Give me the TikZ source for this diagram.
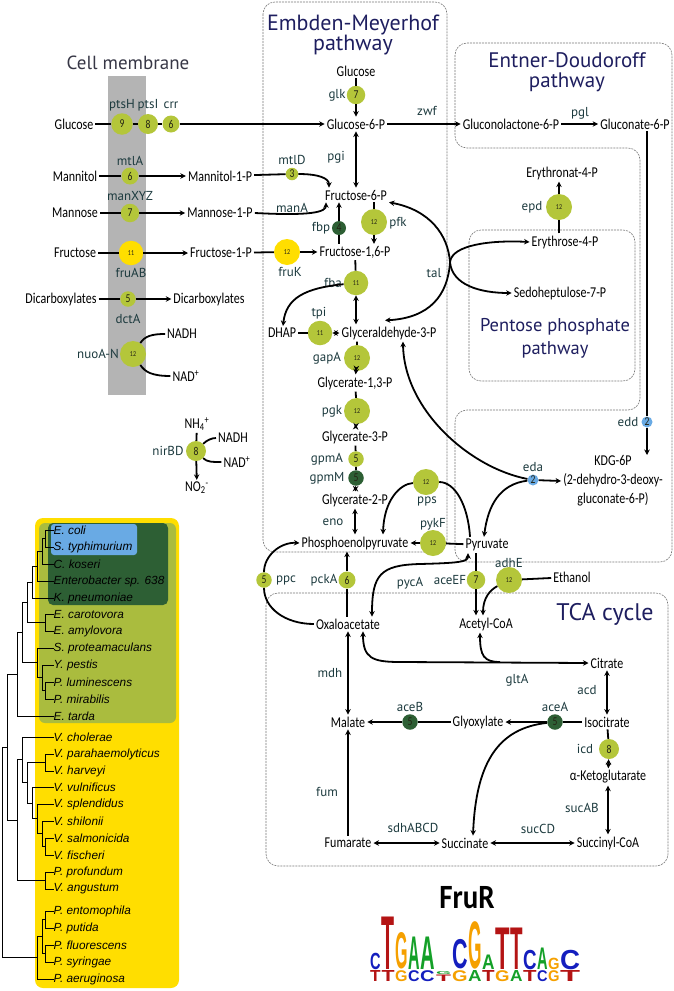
\documentclass[tikz,border=0pt]{standalone}
\usepackage{fontspec}
\usepackage{graphicx}
\usetikzlibrary{arrows.meta}
\setmainfont{Carlito}
\newfontfamily\metfont{Carlito}[FakeStretch=0.8]
\newfontfamily\headfont{Carlito}[FakeStretch=0.85]
\newfontfamily\enzfont{PT Sans}
\newfontfamily\spfont{Liberation Sans}

\definecolor{enzcol}{RGB}{28,58,62}
\definecolor{titlecol}{RGB}{30,30,95}
\definecolor{membcol}{RGB}{180,180,180}
\definecolor{membtext}{RGB}{55,55,70}
\definecolor{limecol}{RGB}{180,198,58}
\definecolor{sunny}{RGB}{255,222,0}
\definecolor{forest}{RGB}{45,95,52}
\definecolor{skycol}{RGB}{105,170,228}
\definecolor{olivecol}{RGB}{170,188,62}
\definecolor{boxcol}{RGB}{120,120,120}
\definecolor{numcol}{RGB}{35,35,20}
\definecolor{logoA}{RGB}{20,160,40}
\definecolor{logoC}{RGB}{20,30,190}
\definecolor{logoG}{RGB}{245,160,0}
\definecolor{logoT}{RGB}{180,20,20}

\tikzset{
  met/.style={font=\metfont\fontsize{15}{19}\selectfont, inner sep=2pt},
  enz/.style={font=\enzfont\fontsize{13}{13}\selectfont, text=enzcol, inner sep=1pt},
  gene/.style={circle, inner sep=0pt, fill=#1, text=numcol, font=\metfont},
  conn/.style={line width=1.8pt},
  flow/.style={conn, -{Stealth[length=5.5pt,width=5.5pt]}},
  both/.style={conn, {Stealth[length=5.5pt,width=5.5pt]}-{Stealth[length=5.5pt,width=5.5pt]}},
  region/.style={draw=boxcol, dash pattern=on 2pt off 1pt, line width=0.6pt, rounded corners=12pt},
  ptitle/.style={font=\enzfont\fontsize{19}{20}\selectfont, text=titlecol, align=center},
  species/.style={font=\spfont\itshape\fontsize{11.8}{12}\selectfont, anchor=west, inner sep=0pt},
  branch/.style={line width=0.9pt},
  logo/.style={inner sep=0pt, anchor=south west, font=\spfont\bfseries}
}

% circle with the number of genomes
\newcommand{\gene}[4]{\node[gene=#4, minimum size={8+1.5*#3}] (#1) at (#2) {\ifnum#3>9 \fontsize{7.5}{7.5}\selectfont\else\fontsize{12}{12}\selectfont\fi #3};}

\begin{document}
\begin{tikzpicture}[x=1pt,y=-1pt]
\useasboundingbox (0,0) rectangle (674,991);

% regions
\fill[membcol] (108,76) rectangle (146,395);
\node[font=\enzfont\fontsize{19}{20}\selectfont, text=membtext] (membtitle) at (128,63) {Cell membrane};
\draw[region] (263,2) rectangle (447,552);
\draw[region] (455,43) -- (672,43) -- (672,562) -- (455,562) -- (455,410) -- (640,410) -- (640,148) -- (455,148) -- cycle;
\draw[region] (469,230) rectangle (635,381);
\draw[region] (266,593) rectangle (668,866);
\node[ptitle, font=\enzfont\fontsize{22}{20}\selectfont] (emtitle) at (353,35) {Embden-Meyerhof\\pathway};
\node[ptitle, font=\enzfont\fontsize{21}{20}\selectfont] (edtitle) at (567,72) {Entner-Doudoroff\\pathway};
\node[ptitle, font=\enzfont\fontsize{18.5}{23}\selectfont] (pptitle) at (555,338) {Pentose phosphate\\pathway};
\node[ptitle, font=\enzfont\fontsize{24}{24}\selectfont] (tcatitle) at (605,614) {TCA cycle};

% metabolites
\node[met] (glc) at (74,124) {Glucose};
\node[met] (mannitol) at (75,176) {Mannitol};
\node[met] (mannose) at (75,213) {Mannose};
\node[met] (fructose) at (75,253) {Fructose};
\node[met] (dicarb) at (61,299) {Dicarboxylates};
\node[met] (m1p) at (220,176) {Mannitol-1-P};
\node[met] (man1p) at (220,213) {Mannose-1-P};
\node[met] (f1p) at (221,253) {Fructose-1-P};
\node[met] (dicarbin) at (209,299) {Dicarboxylates};
\node[met] (nadh) at (182,334) {NADH};
\node[met] (nadp) at (186,376) {NAD\textsuperscript{+}};
\node[met] (nh4) at (197,424) {NH\textsubscript{4}\textsuperscript{+}};
\node[met] (no2) at (197,488) {NO\textsubscript{2}\textsuperscript{-}};
\node[met] (nadhb) at (233,438) {NADH};
\node[met] (nadpb) at (237,462) {NAD\textsuperscript{+}};
\node[met] (glcem) at (356,71) {Glucose};
\node[met] (g6p) at (356,124) {Glucose-6-P};
\node[met] (glcl) at (511,124) {Gluconolactone-6-P};
\node[met] (glcn) at (635,124) {Gluconate-6-P};
\node[met] (f6p) at (356,195) {Fructose-6-P};
\node[met] (f16p) at (355,252) {Fructose-1,6-P};
\node[met] (dhap) at (282,333) {DHAP};
\node[met] (g3p) at (389,333) {Glyceraldehyde-3-P};
\node[met] (g13p) at (355,383) {Glycerate-1,3-P};
\node[met] (g3pa) at (355,437) {Glycerate-3-P};
\node[met] (g2p) at (355,500) {Glycerate-2-P};
\node[met] (pep) at (355,543) {Phosphoenolpyruvate};
\node[met] (pyr) at (487,545) {Pyruvate};
\node[met, align=center] (kdg) at (613,481) {KDG-6P\\(2-dehydro-3-deoxy-\\gluconate-6-P)};
\node[met] (e4pa) at (562,173) {Erythronat-4-P};
\node[met] (e4p) at (565,242) {Erythrose-4-P};
\node[met] (s7p) at (560,293) {Sedoheptulose-7-P};
\node[met] (ethanol) at (572,577) {Ethanol};
\node[met] (oaa) at (348,624) {Oxaloacetate};
\node[met] (accoa) at (486,624) {Acetyl-CoA};
\node[met] (citrate) at (607,663) {Citrate};
\node[met] (isocit) at (607,722) {Isocitrate};
\node[met] (glyox) at (478,722) {Glyoxylate};
\node[met] (malate) at (348,722) {Malate};
\node[met] (akg) at (608,777) {α-Ketoglutarate};
\node[met] (succoa) at (608,843) {Succinyl-CoA};
\node[met] (succ) at (465,843) {Succinate};
\node[met] (fum) at (348,843) {Fumarate};
\coordinate (eddend) at (647,455);

% genes
\gene{pts9}{122,124}{9}{limecol}
\gene{pts8}{148,124}{8}{limecol}
\gene{crr6}{171,124}{6}{limecol}
\gene{mtla}{130,176}{6}{limecol}
\gene{manxyz}{130,213}{7}{limecol}
\gene{fruab}{131,253}{11}{sunny}
\gene{dcta}{128,299}{5}{limecol}
\gene{nuo}{133,354}{12}{limecol}
\gene{nir}{196,451}{8}{limecol}
\gene{glk}{356,95}{7}{limecol}
\gene{mtld}{292,174}{3}{limecol}
\gene{fbp}{339,228}{4}{forest}
\gene{pfk}{374,222}{12}{limecol}
\gene{fruk}{287,252}{12}{sunny}
\gene{fba}{356,283}{11}{limecol}
\gene{tpi}{320,333}{11}{limecol}
\gene{gapa}{357,358}{12}{limecol}
\gene{pgk}{357,411}{12}{limecol}
\gene{gpma}{356,459}{5}{limecol}
\gene{gpmm}{356,478}{5}{forest}
\gene{pps}{426,482}{12}{limecol}
\gene{pykf}{433,543}{12}{limecol}
\gene{eda}{533,480}{2}{skycol}
\gene{edd}{647,422}{2}{skycol}
\gene{epd}{559,207}{12}{limecol}
\gene{ppc}{264,580}{5}{limecol}
\gene{pcka}{347,580}{6}{limecol}
\gene{aceef}{476,580}{7}{limecol}
\gene{adhe}{509,580}{12}{limecol}
\gene{acea}{555,722}{5}{forest}
\gene{aceb}{410,722}{5}{forest}
\gene{icd}{609,749}{8}{limecol}

% enzyme names
\foreach \n/\x/\y/\t in {ptshlab/122/105/ptsH, ptsilab/148/105/ptsI, crrlab/171/105/crr,
  mtlalab/130/161/mtlA, manxyzlab/130/196/manXYZ, fruablab/131/273/fruAB, dctalab/128/319/dctA,
  nuolab/98/354/nuoA-N, nirlab/168/451/nirBD, glklab/337/95/glk, zwflab/427/111/zwf,
  pgllab/580/113/pgl, pgilab/336/157/pgi, mtldlab/292/160/mtlD, manalab/292/208/manA,
  fbplab/321/228/fbp, pfklab/398/223/pfk, fruklab/290/272/fruK, fbalab/333/283/fba,
  tpilab/319/313/tpi, tallab/434/273/tal, gapalab/327/358/gapA, pgklab/332/411/pgk,
  gpmalab/327/459/gpmA, gpmmlab/327/478/gpmM, enolab/333/522/eno, ppslab/427/501/pps,
  pykflab/433/524/pykF, edalab/533/467/eda, eddlab/628/422/edd, epdlab/532/207/epd,
  ppclab/286/580/ppc, pckalab/324/580/pckA, pycalab/410/583/pycA, aceeflab/450/580/aceEF,
  adhelab/509/563/adhE, mdhlab/330/673/mdh, gltalab/517/680/gltA, acdlab/587/690/acd,
  aceblab/410/707/aceB, acealab/555/707/aceA, icdlab/585/749/icd, fumlab/327/792/fum,
  sdhlab/413/828/sdhABCD, succdlab/538/829/sucCD, sucablab/582/808/sucAB}
  \node[enz] (\n) at (\x,\y) {\t};

% transport
\draw[flow] (glc) -- (pts9) -- (pts8) -- (crr6) -- (g6p);
\draw[flow] (mannitol) -- (mtla) -- (m1p);
\draw[flow] (mannose) -- (manxyz) -- (man1p);
\draw[flow] (fructose) -- (fruab) -- (f1p);
\draw[flow] (dicarb) -- (dcta) -- (dicarbin);
\draw[conn] (nuo) .. controls (145,336) and (152,334) .. (nadh.west);
\draw[conn] (nuo) .. controls (145,372) and (152,376) .. (nadp.west);
\draw[flow] (nh4) -- (nir) -- (no2);
\draw[conn] (nir) .. controls (207,440) and (212,438) .. (nadhb.west);
\draw[conn] (nir) .. controls (207,462) and (212,462) .. (nadpb.west);

% glycolysis
\draw[flow] (glcem) -- (glk) -- (g6p);
\draw[flow] (g6p) -- (glcl);
\draw[flow] (glcl) -- (glcn);
\draw[flow] ([xshift=12pt]glcn.south) -- (edd) -- (eddend);
\draw[both] (g6p) -- (f6p);
\draw[conn] (m1p) -- (mtld);
\draw[flow] (mtld) .. controls (318,174) and (329,178) .. ([xshift=-27pt]f6p.north);
\draw[flow] (man1p.east) .. controls (312,216) and (326,212) .. ([xshift=3pt]f6p.south west);
\draw[flow] (f1p) -- (fruk) -- (f16p);
\draw[flow] (f16p.north -| fbp) -- (fbp) -- (f6p.south -| fbp);
\draw[flow] (f6p.south -| pfk) -- (pfk) -- (f16p.north -| pfk);
\draw[both] (f16p) -- (fba) -- (g3p.north -| fba);
\draw[flow] (fba) .. controls (305,288) and (286,298) .. ([xshift=1pt]dhap.north);
\draw[both] (dhap) -- (tpi) -- (g3p);
\draw[both] (g3p.south -| gapa) -- (gapa) -- (g13p);
\draw[both] (g13p) -- (pgk) -- (g3pa);
\draw[both] (g3pa) -- (gpma) -- (gpmm) -- (g2p);
\draw[both] (g2p) -- (pep);
\draw[flow] (pyr) -- (pykf) -- (pep);
\draw[conn] ([xshift=-17pt]pyr.north) .. controls (468,505) and (455,482) .. (pps);
\draw[flow] (pps) .. controls (400,484) and (384,500) .. ([xshift=28pt]pep.north);

% pentose phosphate
\draw[flow] (e4p.north -| epd) -- (epd) -- (e4pa.south -| epd);
\draw[both] (f6p.south east) .. controls (430,210) and (448,235) .. (450,262) .. controls (452,285) and (480,293) .. (s7p.west);
\draw[both] ([xshift=-4pt,yshift=4pt]g3p.north) .. controls (430,318) and (448,295) .. (450,262) .. controls (452,245) and (490,240) .. (e4p.west);

% Entner-Doudoroff
\draw[flow] (eda) -- (kdg.west);
\draw[flow] (eda) .. controls (470,468) and (404,410) .. ([xshift=14pt]g3p.south);
\draw[flow] (eda) .. controls (500,484) and (488,505) .. ([xshift=-3pt]pyr.north);

% pyruvate node
\draw[flow] (oaa.north -| pcka) -- (pcka) -- (pep.south -| pcka);
\draw[conn] (oaa.west) .. controls (285,624) and (264,608) .. (ppc);
\draw[flow] (ppc) .. controls (264,556) and (280,542) .. (pep.west);
\draw[both] ([xshift=24pt]oaa.north) .. controls (372,575) and (380,565) .. (420,564) .. controls (458,563) and (468,562) .. ([xshift=-19pt]pyr.south);
\draw[flow] (pyr.south -| aceef) -- (aceef) -- (accoa.north -| aceef);
\draw[conn] (ethanol) -- (adhe);
\draw[flow] (adhe) .. controls (490,590) and (483,598) .. ([xshift=-3pt]accoa.north);

% TCA cycle
\coordinate (gltjoin) at (500,662);
\draw[both] ([xshift=15pt]oaa.south) .. controls (363,658) and (372,662) .. (400,662) -- (citrate.west);
\draw[flow] (gltjoin) .. controls (484,662) and (480,656) .. ([xshift=-6pt]accoa.south);
\draw[both] (citrate) -- (isocit);
\draw[flow] (isocit) -- (acea) -- (glyox);
\draw[flow] (glyox) -- (aceb) -- (malate);
\draw[flow] (acea) .. controls (500,728) and (476,760) .. ([xshift=8pt]succ.north);
\draw[both] (isocit) -- (icd) -- (akg);
\draw[both] (akg) -- (succoa);
\draw[both] (succoa) -- (succ);
\draw[both] (succ) -- (fum);
\draw[flow] (fum) -- (malate);
\draw[both] (oaa) -- (malate);

% species tree
\fill[sunny] (35,518) [rounded corners=8pt] rectangle (179,988);
\fill[olivecol] (39,523) [rounded corners=6pt] rectangle (176,723);
\fill[forest] (48,523) [rounded corners=5pt] rectangle (168,605);
\fill[skycol] (51,524) [rounded corners=3pt] rectangle (137,555);
\foreach \y/\p/\name [count=\i] in {530/45/E. coli, 547/45/S. typhimurium, 564/42/C. koseri,
  581/37/Enterobacter sp. 638, 598/32/K. pneumoniae, 614/45/E. carotovora, 631/45/E. amylovora,
  648/37/S. proteamaculans, 665/42/Y. pestis, 682/45/P. luminescens, 699/45/P. mirabilis,
  716/17/E. tarda, 737/22/V. cholerae, 754/45/V. parahaemolyticus, 771/45/V. harveyi,
  787/32/V. vulnificus, 804/37/V. splendidus, 821/42/V. shilonii, 838/45/V. salmonicida,
  855/45/V. fischeri, 872/45/P. profundum, 889/45/V. angustum, 911/45/P. entomophila,
  928/45/P. putida, 945/45/P. fluorescens, 962/45/P. syringae, 979/37/P. aeruginosa}
{
  \node[species] (sp\i) at (53.5,\y) {\name};
  \draw[branch] (\p,\y) -- (sp\i.west);
}
\foreach \x/\a/\b/\p in {45/530/547/42, 42/538.5/564/37, 37/551.25/581/32, 32/566.1/598/27,
  45/614/631/27, 27/582/622.5/22, 45/682/699/42, 42/665/690.5/37, 37/648/677.75/22,
  22/602.3/662.9/17, 17/632.6/716/7, 45/754/771/27, 45/838/855/42, 42/821/846.5/37,
  37/804/833.75/32, 32/787/818.9/27, 27/762.5/803/22, 22/737/782.7/17, 45/872/889/17,
  17/759.9/880.5/7, 7/674.3/820.2/2, 45/911/928/42, 45/945/962/42, 42/919.5/953.5/37,
  37/936.5/979/2, 2/747.2/957.75/2}
{
  \draw[branch] (\x,\a) -- (\x,\b);
  \draw[branch] (\p,{(\a+\b)/2}) -- (\x,{(\a+\b)/2});
}

% FruR logo
\node[font=\headfont\bfseries\fontsize{34}{34}\selectfont] (logotitle) at (467,898) {FruR};
\foreach \x/\w/\t/\l/\c/\s/\sc [count=\i] in {370/10.5/953/C/logoC/T/logoT, 381.5/13/917/T/logoT/T/logoT,
  395/12.5/933/G/logoG/G/logoG, 408/11.5/937/A/logoA/C/logoC, 420/14.5/937/A/logoA/C/logoC,
  452/15.5/940/C/logoC/G/logoG, 468/13.5/922/G/logoG/A/logoA, 482/12.5/955/A/logoA/T/logoT,
  495/14.5/928/T/logoT/G/logoG, 510/12.5/928/T/logoT/A/logoA, 523/13.5/950/C/logoC/T/logoT,
  537/10.5/948/A/logoA/C/logoC, 548/11.5/958/G/logoG/G/logoG, 560/20/950/C/logoC/T/logoT}
{
  \pgfmathsetmacro\h{969.5-\t}
  \node[logo] (big\i) at (\x,969.5) {\resizebox*{\w pt}{\h pt}{\textcolor{\c}{\l}}};
  \node[logo] (small\i) at (\x,982) {\resizebox*{\w pt}{11pt}{\textcolor{\sc}{\s}}};
}
\node[logo] (gapa1) at (436,982) {\resizebox*{15pt}{6.5pt}{\textcolor{logoT}{T}}};
\node[logo] (gapa2) at (436,975) {\resizebox*{15pt}{3pt}{\textcolor{logoA}{G}}};
\end{tikzpicture}
\end{document}
